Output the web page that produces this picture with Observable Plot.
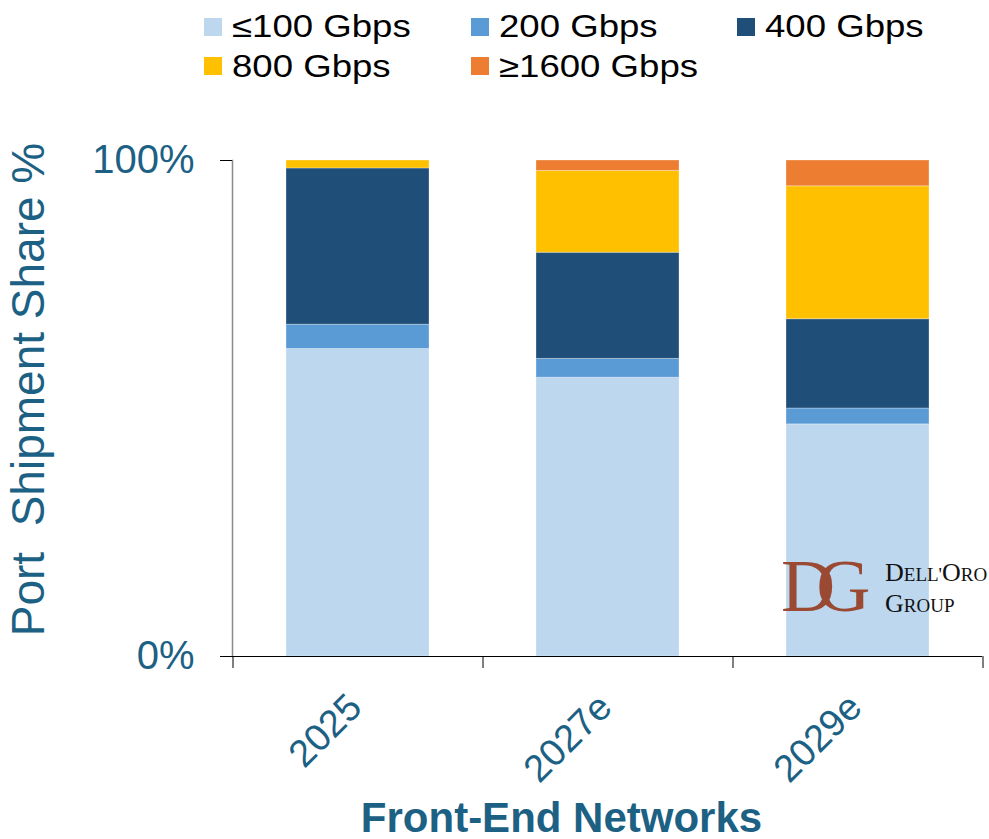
<!DOCTYPE html>
<html>
<head>
<meta charset="utf-8">
<script src="https://cdn.jsdelivr.net/npm/d3@7"></script>
<script src="https://cdn.jsdelivr.net/npm/@observablehq/plot@0.6"></script>
<style>
  body { margin: 0; background: #fff; }
  #wrap { position: relative; width: 989px; height: 839px; font-family: "Liberation Sans", Arial, sans-serif; }
  #wrap svg { position: absolute; left: 0; top: 0; }
  .item { position: absolute; height: 31px; display: flex; align-items: center; z-index: 2; }
  .sw { width: 18px; height: 18px; margin-right: 10px; flex: none; }
  .lab { font-size: 31px; line-height: 31px; white-space: nowrap; transform: scaleX(1.18); transform-origin: left center; color: #000; }
</style>
</head>
<body>
<div id="wrap"></div>
<script>
// Categories and series (port shipment share, % of ports)
const years = ["2025", "2027e", "2029e"];
const speeds = ["≤100 Gbps", "200 Gbps", "400 Gbps", "800 Gbps", "≥1600 Gbps"];
const colors = ["#BDD7EE", "#5B9BD5", "#1F4E79", "#FFC000", "#ED7D31"];

const shareLe100 = [62.0, 56.2, 46.8];
const share200   = [4.9, 3.8, 3.2];
const share400   = [31.5, 21.4, 18.0];
const share800   = [1.6, 16.5, 26.8];
const share1600  = [0.0, 2.1, 5.2];

const yTicks = [0, 100];
const xTitle = "Front-End Networks";
const yTitle = "Port\u00a0 Shipment Share %";

// Long-format table for the stacked bars
const seriesValues = [shareLe100, share200, share400, share800, share1600];
const rows = [];
years.forEach((year, i) => {
  speeds.forEach((speed, j) => rows.push({ year, speed, share: seriesValues[j][i] }));
});

// Layout
const W = 989, H = 839;
const mL = 232, mR = 7, mT = 160, mB = 183;
const step = (W - mL - mR) / years.length;
const teal = "#1C6184";

const plot = Plot.plot({
  width: W,
  height: H,
  marginLeft: mL,
  marginRight: mR,
  marginTop: mT,
  marginBottom: mB,
  style: { fontFamily: "Liberation Sans, Arial, sans-serif", background: "transparent", overflow: "visible" },
  x: { domain: years, paddingInner: 0.428, paddingOuter: 0.214 },
  y: { domain: [0, 100] },
  color: { domain: speeds, range: colors },
  marks: [
    Plot.barY(rows, {
      x: "year", y: "share", fill: "speed", order: speeds,
      stroke: "#ffffff", strokeOpacity: 0.3, strokeWidth: 1
    }),
    Plot.frame({ anchor: "left", stroke: "#8a8a8a", strokeWidth: 1.5 }),
    Plot.ruleY([0], { stroke: "#000", strokeWidth: 1.2 }),
    // category separators on the x axis
    Plot.axisX({ tickSize: 12, dx: -step / 2, tickFormat: () => "", label: null, stroke: "#000" }),
    Plot.axisX({ ticks: [years[years.length - 1]], tickSize: 12, dx: step / 2, tickFormat: () => "", label: null, stroke: "#000" }),
    // y ticks and their labels
    Plot.axisY({ ticks: yTicks, tickSize: 12, tickFormat: () => "", label: null, stroke: "#000" }),
    Plot.axisY({ ticks: yTicks, tickSize: 0, tickPadding: 38, tickFormat: d => d + "%", fontSize: 40, color: teal, label: null }),
    // rotated category labels
    Plot.text(years, {
      x: d => d, frameAnchor: "bottom", rotate: -45, textAnchor: "end", lineAnchor: "bottom",
      dx: 6, dy: 53, fontSize: 38, fill: teal
    }),
    // axis titles
    Plot.text([xTitle], {
      frameAnchor: "bottom", textAnchor: "middle", dx: -46, dy: 175, lineAnchor: "bottom",
      fontSize: 42, fontWeight: "bold", fill: teal
    }),
    Plot.text([yTitle], {
      frameAnchor: "left", textAnchor: "middle", rotate: -90, dx: -189, dy: -19, lineAnchor: "bottom",
      fontSize: 46, fill: teal
    })
  ]
});

const wrap = document.getElementById("wrap");
wrap.appendChild(plot);

// Dell'Oro Group logo in the lower right of the plot area
const svg = d3.select(plot);
const logo = svg.append("g")
  .attr("font-family", "Liberation Serif, 'Times New Roman', serif")
  .attr("text-anchor", "start");
const brown = "#9A4A33";
// interlocking monogram: the two letters overlap through negative spacing
logo.append("text").attr("x", 781).attr("y", 611).attr("font-size", 75)
  .attr("letter-spacing", -19).attr("fill", brown).text("DG");
const l1 = logo.append("text").attr("x", 885).attr("y", 581).attr("fill", "#111");
l1.append("tspan").attr("font-size", 26).text("D");
l1.append("tspan").attr("font-size", 19).text("ELL'");
l1.append("tspan").attr("font-size", 26).text("O");
l1.append("tspan").attr("font-size", 19).text("RO");
const l2 = logo.append("text").attr("x", 885).attr("y", 612).attr("fill", "#111");
l2.append("tspan").attr("font-size", 26).text("G");
l2.append("tspan").attr("font-size", 19).text("ROUP");

// Legend: three columns, two rows
const colX = [204, 471, 737];
const rowY = [26.5, 66];
speeds.forEach((s, i) => {
  const item = document.createElement("div");
  item.className = "item";
  item.style.left = colX[i % 3] + "px";
  item.style.top = (rowY[Math.floor(i / 3)] - 15.5) + "px";
  const sw = document.createElement("div");
  sw.className = "sw";
  sw.style.background = colors[i];
  const lab = document.createElement("span");
  lab.className = "lab";
  lab.textContent = s;
  item.appendChild(sw);
  item.appendChild(lab);
  wrap.appendChild(item);
});
</script>
</body>
</html>
